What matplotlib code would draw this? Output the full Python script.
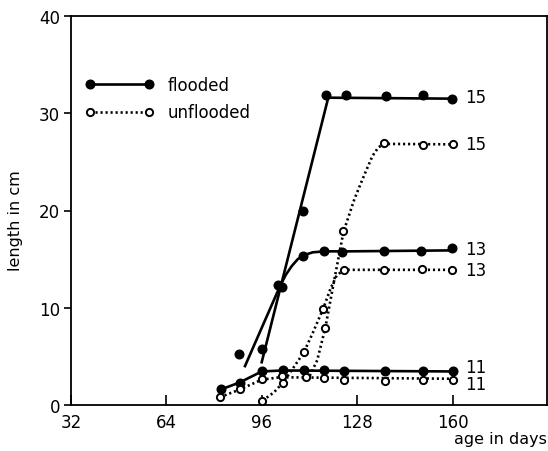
import matplotlib
matplotlib.use("Agg")
import matplotlib.pyplot as plt

# ---- data: measured points ----
f15_x = [96.0, 101.5, 109.8, 117.3, 124.0, 137.6, 149.9, 159.6]
f15_y = [5.75, 12.3, 20.0, 31.85, 31.85, 31.8, 31.85, 31.5]
f13_x = [88.3, 102.6, 109.8, 116.8, 122.7, 137.0, 149.3, 159.7]
f13_y = [5.2, 12.1, 15.3, 15.85, 15.75, 15.85, 15.85, 16.1]
f11_x = [82.2, 88.5, 96.0, 103.2, 110.1, 116.8, 123.6, 137.1, 149.8, 159.9]
f11_y = [1.65, 2.3, 3.45, 3.55, 3.6, 3.55, 3.45, 3.45, 3.5, 3.5]

u15_x = [117.2, 123.3, 137.0, 150.1, 159.9]
u15_y = [7.9, 17.9, 26.9, 26.7, 26.8]
u13_x = [96.1, 103.1, 110.0, 116.6, 123.6, 137.0, 149.6, 159.8]
u13_y = [0.45, 2.3, 5.45, 9.9, 13.85, 13.9, 14.0, 13.9]
u11_x = [81.8, 88.7, 96.0, 102.6, 110.7, 116.9, 123.6, 137.1, 149.9, 159.9]
u11_y = [0.8, 1.6, 2.65, 2.95, 2.85, 2.8, 2.6, 2.45, 2.55, 2.6]

# ---- data: drawn (fitted) curves ----
f15_fit_x = [95.9, 118.2, 160.0]
f15_fit_y = [4.4, 31.6, 31.5]
f13_fit_x = [90.3, 96.0, 100.0, 102.0, 104.0, 106.0, 108.0, 110.0, 113.0, 117.0, 125.0, 160.0]
f13_fit_y = [4.0, 8.0, 10.8, 12.2, 13.4, 14.3, 15.0, 15.4, 15.7, 15.8, 15.8, 15.9]
f11_fit_x = [82.2, 88.4, 95.9, 103.0, 160.0]
f11_fit_y = [1.6, 2.3, 3.45, 3.55, 3.45]

u15_fit_x = [112.0, 114.5, 117.2, 120.0, 123.3, 127.0, 130.2, 133.0, 135.0, 137.0, 160.0]
u15_fit_y = [3.0, 4.6, 7.9, 12.5, 17.8, 21.2, 23.6, 25.6, 26.5, 26.85, 26.8]
u13_fit_x = [96.2, 100.0, 103.0, 106.0, 110.0, 113.0, 116.5, 119.0, 121.0, 123.0, 125.0, 160.0]
u13_fit_y = [0.45, 1.3, 2.3, 3.6, 5.4, 7.4, 9.9, 12.0, 13.3, 13.8, 13.9, 13.9]
u11_fit_x = [81.9, 88.6, 95.9, 102.0, 160.0]
u11_fit_y = [0.8, 1.6, 2.6, 2.85, 2.7]

series_labels = ["15", "15", "13", "13", "11", "11"]

x_ticks = [32, 64, 96, 128, 160]
y_ticks = [0, 10, 20, 30, 40]

plt.rcParams['font.family'] = ['DejaVu Sans']

fig = plt.figure(figsize=(5.48, 4.52), dpi=100)
ax = fig.add_axes([71 / 548, 46 / 452, 476 / 548, 389 / 452])

solid = dict(color='black', lw=1.9, ls='-')
dotted = dict(color='black', lw=1.9, ls=(0, (0.8, 1.1)))
fmk = dict(ls='none', marker='o', ms=6.2, mfc='black', mec='black')
omk = dict(ls='none', marker='o', ms=5.2, mfc='white', mec='black', mew=1.4)

# fitted lines
ax.plot(f15_fit_x, f15_fit_y, **solid)
ax.plot(f13_fit_x, f13_fit_y, **solid)
ax.plot(f11_fit_x, f11_fit_y, **solid)
ax.plot(u15_fit_x, u15_fit_y, **dotted)
ax.plot(u13_fit_x, u13_fit_y, **dotted)
ax.plot(u11_fit_x, u11_fit_y, **dotted)

# points
for xs, ys in [(f15_x, f15_y), (f13_x, f13_y), (f11_x, f11_y)]:
    ax.plot(xs, ys, zorder=4, **fmk)
for xs, ys in [(u15_x, u15_y), (u13_x, u13_y), (u11_x, u11_y)]:
    ax.plot(xs, ys, zorder=4, **omk)

# right-hand labels
ends = [(f15_fit_x[-1], f15_fit_y[-1]), (u15_fit_x[-1], u15_fit_y[-1]),
        (f13_fit_x[-1], f13_fit_y[-1]), (u13_fit_x[-1], u13_fit_y[-1]),
        (f11_fit_x[-1], f11_fit_y[-1]), (u11_fit_x[-1], u11_fit_y[-1])]
offs = [1, 0, 1, 0, 3, -4]
for lab, (ex, ey), dy in zip(series_labels, ends, offs):
    ax.annotate(lab, xy=(ex, ey), xytext=(9, dy), textcoords='offset points',
                ha='left', va='center', fontsize=12)

# legend
h1, = ax.plot([], [], marker='o', ms=6.2, mfc='black', mec='black', **solid)
h2, = ax.plot([], [], marker='o', ms=5.2, mfc='white', mec='black', mew=1.4, **dotted)
ax.legend([h1, h2], ['flooded', 'unflooded'], loc='upper left',
          bbox_to_anchor=(0.0294, 0.845), frameon=False, fontsize=12,
          handlelength=4.14, handletextpad=0.84, labelspacing=0.55,
          borderpad=0, borderaxespad=0, numpoints=2)

ax.set_xlim(32, 191.5)
ax.set_ylim(0, 40)
ax.set_xticks(x_ticks)
ax.set_yticks(y_ticks)
ax.tick_params(axis='x', direction='in', length=7, width=1.2, pad=6, labelsize=12)
ax.tick_params(axis='y', direction='out', length=5, width=1.2, pad=3, labelsize=12)
for s in ax.spines.values():
    s.set_linewidth(1.3)

ax.set_xlabel('age in days', loc='right', fontsize=11.5)
ax.xaxis.set_label_coords(1.0, -0.068)
ax.set_ylabel('length in cm', fontsize=11.5)
ax.yaxis.set_label_coords(-0.1, 0.476)

fig.savefig('out.png', dpi=100)
